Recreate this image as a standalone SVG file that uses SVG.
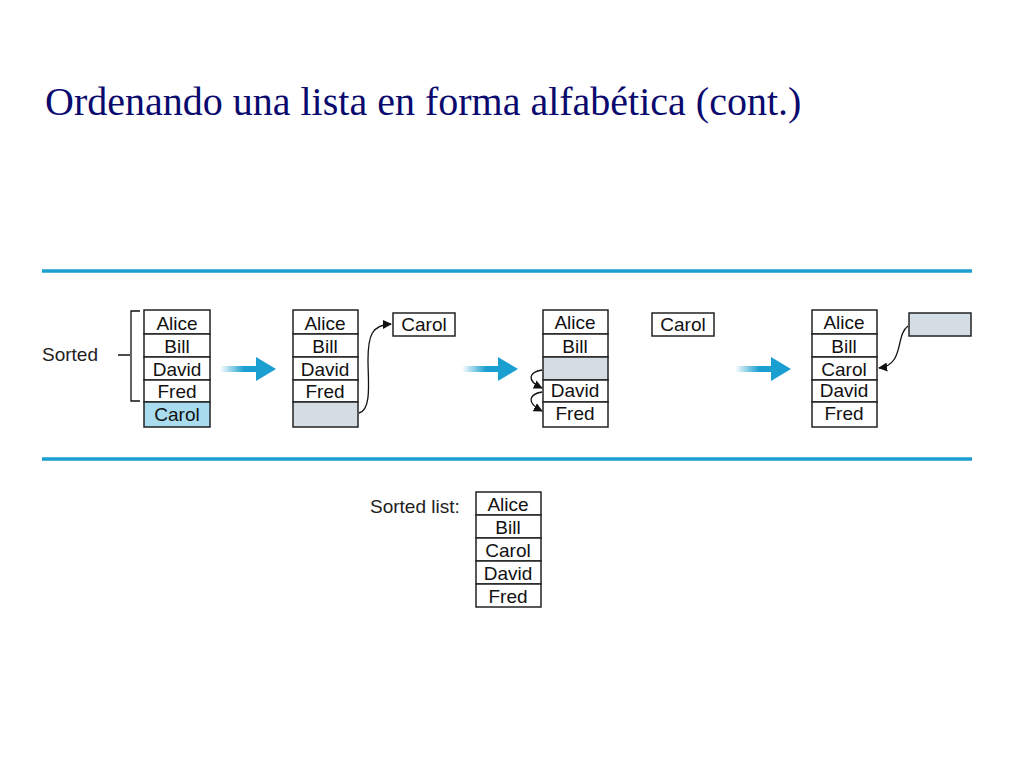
<svg xmlns="http://www.w3.org/2000/svg" width="1024" height="768" viewBox="0 0 1024 768">
<defs>
<style>
.c{fill:#fff;stroke:#222;stroke-width:1.5}
.g{fill:#d5dde4;stroke:#222;stroke-width:1.5}
.b{fill:#a9dcef;stroke:#222;stroke-width:1.5}
.t{font-family:"Liberation Sans",Arial,sans-serif;font-size:19px;fill:#111;text-anchor:middle}
.l{font-family:"Liberation Sans",Arial,sans-serif;font-size:19px;fill:#222}
.k{fill:none;stroke:#111;stroke-width:1.3}
</style>
<linearGradient id="ag" x1="0" x2="1"><stop offset="0" stop-color="#1a9fd0" stop-opacity="0"/><stop offset="0.6" stop-color="#1a9fd0"/></linearGradient>
<marker id="m" viewBox="0 0 10 10" refX="9" refY="5" markerWidth="7" markerHeight="7" orient="auto"><path d="M0,0L10,5L0,10z" fill="#111"/></marker>
<g id="bigarrow"><rect x="0" y="-3" width="40" height="6" fill="url(#ag)"/><path d="M36,-12L56,0L36,12z" fill="#1a9fd0"/></g>
</defs>
<rect width="1024" height="768" fill="#fff"/>
<text x="45" y="115" font-family="Liberation Serif,Times New Roman,serif" font-size="40" fill="#0a0a6e">Ordenando una lista en forma alfabética (cont.)</text>
<line x1="42" y1="271" x2="972" y2="271" stroke="#1a9fd0" stroke-width="3.5"/>
<line x1="42" y1="459" x2="972" y2="459" stroke="#1a9fd0" stroke-width="3.5"/>
<g id="sorted-label">
<text class="l" x="42" y="361">Sorted</text>
<path d="M118,355H130M140,311H131V401H140" class="k"/>
</g>
<g id="list1">
<rect class="c" x="144" y="310" width="66" height="24"/><text class="t" x="177" y="330">Alice</text>
<rect class="c" x="144" y="334" width="66" height="23"/><text class="t" x="177" y="353">Bill</text>
<rect class="c" x="144" y="357" width="66" height="23"/><text class="t" x="177" y="376">David</text>
<rect class="c" x="144" y="380" width="66" height="22"/><text class="t" x="177" y="398">Fred</text>
<rect class="b" x="144" y="402" width="66" height="25"/><text class="t" x="177" y="421">Carol</text>
</g>
<g id="list2">
<rect class="c" x="293" y="310" width="65" height="24"/><text class="t" x="325" y="330">Alice</text>
<rect class="c" x="293" y="334" width="65" height="23"/><text class="t" x="325" y="353">Bill</text>
<rect class="c" x="293" y="357" width="65" height="23"/><text class="t" x="325" y="376">David</text>
<rect class="c" x="293" y="380" width="65" height="22"/><text class="t" x="325" y="398">Fred</text>
<rect class="g" x="293" y="402" width="65" height="25"/>
</g>
<g id="carol2"><rect class="c" x="393" y="313" width="62" height="23"/><text class="t" x="424" y="331">Carol</text></g>
<g id="list3">
<rect class="c" x="543" y="310" width="65" height="24"/><text class="t" x="575" y="329">Alice</text>
<rect class="c" x="543" y="334" width="65" height="23"/><text class="t" x="575" y="353">Bill</text>
<rect class="g" x="543" y="357" width="65" height="23"/>
<rect class="c" x="543" y="380" width="65" height="22"/><text class="t" x="575" y="397">David</text>
<rect class="c" x="543" y="402" width="65" height="25"/><text class="t" x="575" y="420">Fred</text>
</g>
<g id="carol3"><rect class="c" x="652" y="313" width="62" height="23"/><text class="t" x="683" y="331">Carol</text></g>
<g id="list4">
<rect class="c" x="812" y="310" width="65" height="24"/><text class="t" x="844" y="329">Alice</text>
<rect class="c" x="812" y="334" width="65" height="23"/><text class="t" x="844" y="353">Bill</text>
<rect class="c" x="812" y="357" width="65" height="23"/><text class="t" x="844" y="376">Carol</text>
<rect class="c" x="812" y="380" width="65" height="22"/><text class="t" x="844" y="397">David</text>
<rect class="c" x="812" y="402" width="65" height="25"/><text class="t" x="844" y="420">Fred</text>
</g>
<g id="empty4"><rect class="g" x="909" y="313" width="62" height="23"/></g>
<g id="sorted-list">
<text class="l" x="370" y="513">Sorted list:</text>
<rect class="c" x="476" y="492" width="65" height="23"/><text class="t" x="508" y="511">Alice</text>
<rect class="c" x="476" y="515" width="65" height="23"/><text class="t" x="508" y="534">Bill</text>
<rect class="c" x="476" y="538" width="65" height="23"/><text class="t" x="508" y="557">Carol</text>
<rect class="c" x="476" y="561" width="65" height="23"/><text class="t" x="508" y="580">David</text>
<rect class="c" x="476" y="584" width="65" height="23"/><text class="t" x="508" y="603">Fred</text>
</g>
<g id="connectors">
<use href="#bigarrow" x="220" y="369"/>
<use href="#bigarrow" x="462" y="369"/>
<use href="#bigarrow" x="735" y="369"/>
<path class="k" marker-end="url(#m)" d="M359,413C372,410 368,380 368,360C368,335 372,325 391,324"/>
<path class="k" marker-end="url(#m)" d="M542,370C530,372 525,380 542,388"/>
<path class="k" marker-end="url(#m)" d="M542,392C530,394 525,402 542,411"/>
<path class="k" marker-end="url(#m)" d="M908,326C895,335 905,365 879,368"/>
</g>
</svg>
